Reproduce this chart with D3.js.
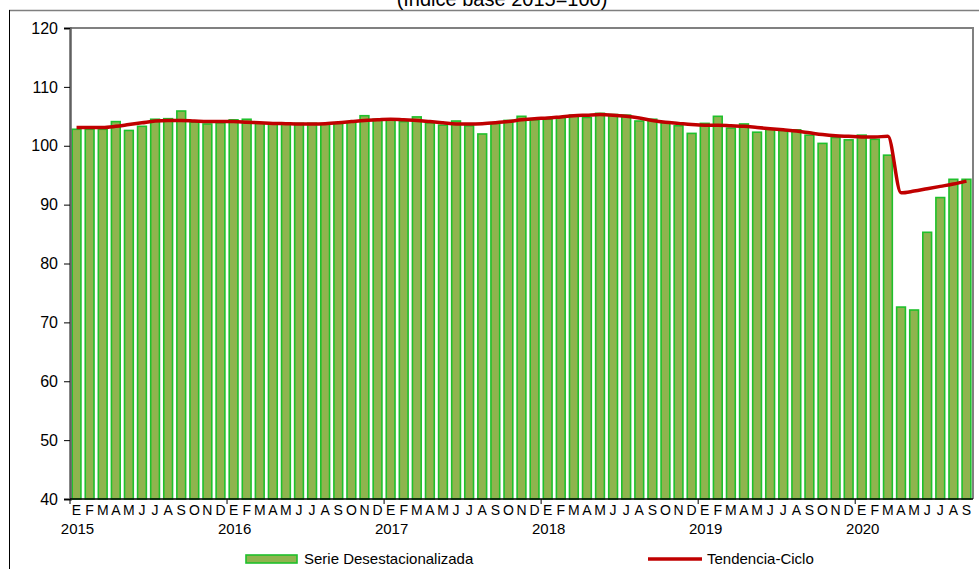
<!DOCTYPE html>
<html><head><meta charset="utf-8">
<script src="https://cdn.jsdelivr.net/npm/d3@7"></script>
<style>
body{margin:0;background:#fff;}
svg{display:block;font-family:"Liberation Sans",Arial,sans-serif;}
</style></head>
<body>
<svg id="chart" width="979" height="569"></svg>
<script>
const monthLetters = ["E","F","M","A","M","J","J","A","S","O","N","D"];
const years = ["2015","2016","2017","2018","2019","2020"];
const serieDesestacionalizada = [
  102.8,102.8,102.8,104.1,102.6,103.3,104.5,104.6,105.9,104.0,103.7,103.9,
  104.4,104.5,103.9,103.7,103.9,103.8,103.8,103.7,103.8,104.0,105.1,104.5,
  104.4,104.1,104.9,103.9,103.5,104.2,103.4,102.0,103.8,104.3,105.0,104.4,
  104.5,104.8,105.2,104.8,105.5,105.3,105.2,104.2,104.5,103.9,103.4,102.1,
  103.8,105.0,103.0,103.7,102.3,102.8,102.6,102.7,101.8,100.4,101.4,101.0,
  101.8,101.1,98.4,72.6,72.1,85.3,91.2,94.3,94.3
];
const tendenciaCiclo = [
  103.1,103.1,103.1,103.3,103.6,103.9,104.2,104.3,104.3,104.2,104.1,104.1,
  104.1,104.0,103.9,103.8,103.75,103.7,103.7,103.75,103.9,104.1,104.3,104.4,
  104.5,104.4,104.3,104.1,103.9,103.7,103.7,103.75,103.9,104.1,104.4,104.6,
  104.7,104.9,105.1,105.2,105.3,105.2,105.0,104.7,104.3,104.0,103.8,103.6,
  103.5,103.5,103.4,103.3,103.1,102.9,102.7,102.5,102.2,101.9,101.7,101.6,
  101.5,101.5,101.6,92.0,92.3,92.7,93.1,93.5,94.0
];
const yTicks = [40,50,60,70,80,90,100,110,120];
const legendLabels = ["Serie Desestacionalizada","Tendencia-Ciclo"];
const title = "(Índice base 2015=100)";

const svg = d3.select("#chart");
const L = 70, R = 973, T = 28, B = 499;

const idx = d3.range(serieDesestacionalizada.length);
const x = d3.scaleBand().domain(idx).range([L, R]).paddingInner(0.33).paddingOuter(0.165);
const y = d3.scaleLinear().domain([40, 120]).range([B, T]);

// outer frame
svg.append("line").attr("x1", 9).attr("x2", 979).attr("y1", 10.5).attr("y2", 10.5)
  .attr("stroke", "#7f7f7f").attr("stroke-width", 1.5);
svg.append("line").attr("x1", 9.5).attr("x2", 9.5).attr("y1", 10).attr("y2", 569)
  .attr("stroke", "#000").attr("stroke-width", 1);

// title (cropped at top)
svg.append("text").attr("x", 502).attr("y", 6).attr("text-anchor", "middle")
  .attr("font-size", 20).attr("fill", "#000").text(title);

// plot border top/right
svg.append("path").attr("d", `M${L},${T}H${R}V${B}`).attr("fill", "none")
  .attr("stroke", "#808080").attr("stroke-width", 2);

// bars
svg.append("g").selectAll("rect").data(serieDesestacionalizada).join("rect")
  .attr("x", (d, i) => x(i))
  .attr("width", x.bandwidth())
  .attr("y", d => y(d))
  .attr("height", d => B - y(d))
  .attr("fill", "#8fb44e")
  .attr("stroke", "#1fc02c")
  .attr("stroke-width", 1.6);

// trend line
const line = d3.line().x((d, i) => x(i) + x.bandwidth() / 2).y(d => y(d)).curve(d3.curveMonotoneX);
svg.append("path").datum(tendenciaCiclo).attr("d", line).attr("fill", "none")
  .attr("stroke", "#c00000").attr("stroke-width", 3.5).attr("stroke-linejoin", "round");

// y axis
const yAxis = d3.axisLeft(y).tickValues(yTicks).tickSize(6).tickPadding(6);
const gy = svg.append("g").attr("transform", `translate(${L},0)`).call(yAxis);
gy.select(".domain").attr("stroke", "#606060").attr("stroke-width", 2.5);
gy.selectAll(".tick line").attr("stroke", "#000");
gy.selectAll(".tick text").attr("font-size", 16).attr("fill", "#000")
  .attr("font-family", "Liberation Sans, Arial, sans-serif");

// x axis baseline
svg.append("line").attr("x1", L).attr("x2", R).attr("y1", B).attr("y2", B)
  .attr("stroke", "#000").attr("stroke-width", 1.5);

// year ticks
const step = x.step();
const xStart = L;
years.forEach((yr, k) => {
  const xi = xStart + k * 12 * step;
  svg.append("line").attr("x1", xi).attr("x2", xi).attr("y1", B).attr("y2", B + 5)
    .attr("stroke", "#000").attr("stroke-width", 1);
});

// month letters
svg.append("g").selectAll("text").data(idx).join("text")
  .attr("x", i => x(i) + x.bandwidth() / 2)
  .attr("y", 515)
  .attr("text-anchor", "middle")
  .attr("font-size", 14)
  .attr("fill", "#000")
  .text(i => monthLetters[i % 12]);

// year labels
svg.append("g").selectAll("text").data(years).join("text")
  .attr("x", (d, k) => x(k * 12) + x.bandwidth() / 2 + 1)
  .attr("y", 534)
  .attr("text-anchor", "middle")
  .attr("font-size", 15)
  .attr("fill", "#000")
  .text(d => d);

// legend
svg.append("rect").attr("x", 246).attr("y", 555).attr("width", 51).attr("height", 8)
  .attr("fill", "#8fb44e").attr("stroke", "#1fc02c").attr("stroke-width", 1.6);
svg.append("text").attr("x", 304).attr("y", 564).attr("font-size", 15).attr("fill", "#000")
  .text(legendLabels[0]);
svg.append("line").attr("x1", 648).attr("x2", 702).attr("y1", 559).attr("y2", 559)
  .attr("stroke", "#c00000").attr("stroke-width", 3.5);
svg.append("text").attr("x", 707).attr("y", 564).attr("font-size", 15).attr("fill", "#000")
  .text(legendLabels[1]);
</script>
</body></html>
